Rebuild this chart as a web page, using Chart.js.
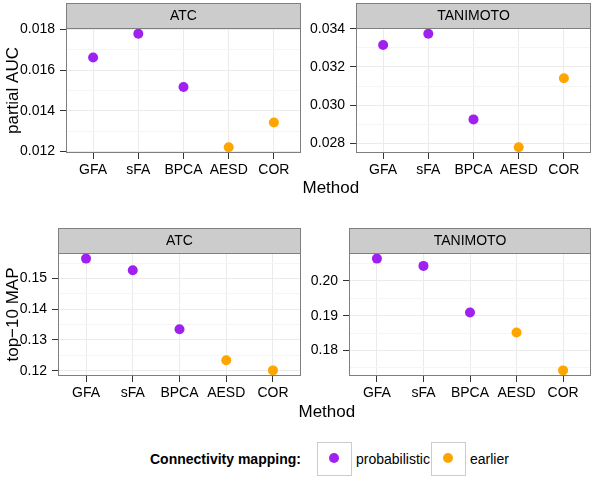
<!DOCTYPE html>
<html><head><meta charset="utf-8">
<script src="https://cdn.jsdelivr.net/npm/chart.js@4/dist/chart.umd.min.js"></script>
<style>
html,body{margin:0;padding:0;background:#fff;}
#root{position:relative;width:600px;height:478px;overflow:hidden;font-family:"Liberation Sans",Arial,Helvetica,sans-serif;}
canvas{position:absolute;}
.lbl{position:absolute;white-space:nowrap;color:#000;line-height:1;}
.key{position:absolute;width:33px;height:32px;border:1px solid #CCCCCC;background:#fff;box-sizing:content-box;}
.dot{position:absolute;width:10px;height:10px;border-radius:50%;}
</style></head><body><div id="root"></div>
<script>
// ---- data ----
const methods = ['GFA', 'sFA', 'BPCA', 'AESD', 'COR'];
const methodGroup = ['probabilistic', 'probabilistic', 'probabilistic', 'earlier', 'earlier'];
const groupNames = ['probabilistic', 'earlier'];
const facetNames = ['ATC', 'TANIMOTO'];
const aucATC = [0.01662, 0.01779, 0.01517, 0.01221, 0.01343];
const aucTANIMOTO = [0.03315, 0.03374, 0.02926, 0.02780, 0.03141];
const mapATC = [0.1565, 0.1527, 0.1335, 0.1234, 0.1201];
const mapTANIMOTO = [0.2064, 0.2043, 0.1909, 0.1852, 0.1743];
const aucATCTicks = [0.012, 0.014, 0.016, 0.018];
const aucTANIMOTOTicks = [0.028, 0.030, 0.032, 0.034];
const mapATCTicks = [0.12, 0.13, 0.14, 0.15];
const mapTANIMOTOTicks = [0.18, 0.19, 0.20];
const yTitles = ['partial AUC', 'top\u221210 MAP'];
const xTitle = 'Method';
const legendTitle = 'Connectivity mapping:';

// ---- styles ----
const FONT = '"Liberation Sans", Arial, Helvetica, sans-serif';
const groupColors = {probabilistic: '#A020F0', earlier: '#FFA500'};
const root = document.getElementById('root');

const panels = [
  {values: aucATC, ticks: aucATCTicks, digits: 3, strip: facetNames[0], ytitle: yTitles[0], area: {left: 66, top: 28, right: 306, bottom: 153}, colLeft: 0},
  {values: aucTANIMOTO, ticks: aucTANIMOTOTicks, digits: 3, strip: facetNames[1], ytitle: '', area: {left: 356, top: 28, right: 596, bottom: 153}, colLeft: 306},
  {values: mapATC, ticks: mapATCTicks, digits: 2, strip: facetNames[0], ytitle: yTitles[1], area: {left: 58, top: 253, right: 306, bottom: 376}, colLeft: 0},
  {values: mapTANIMOTO, ticks: mapTANIMOTOTicks, digits: 2, strip: facetNames[1], ytitle: '', area: {left: 349, top: 253, right: 596, bottom: 376}, colLeft: 306}
];

const facetFrame = {
  id: 'facetFrame',
  afterDraw(chart, args, opts) {
    const ctx = chart.ctx, a = chart.chartArea, sh = 25;
    ctx.save();
    ctx.fillStyle = '#CCCCCC';
    ctx.fillRect(a.left, a.top - sh, a.right - a.left, sh);
    ctx.strokeStyle = '#7F7F7F';
    ctx.lineWidth = 1;
    ctx.strokeRect(a.left + 0.5, a.top - sh + 0.5, a.right - a.left - 1, sh);
    ctx.strokeRect(a.left + 0.5, a.top + 0.5, a.right - a.left - 1, a.bottom - a.top - 1);
    ctx.fillStyle = '#000';
    ctx.font = '14px ' + FONT;
    ctx.textAlign = 'center';
    ctx.textBaseline = 'middle';
    ctx.fillText(opts.label, (a.left + a.right) / 2, a.top - sh / 2 + 1);
    ctx.restore();
  }
};

const TOPPAD = 28, XH = 45;
panels.forEach(p => {
  const a = p.area;
  const cTop = a.top - TOPPAD;
  const cLeft = p.colLeft;
  const cW = a.right - cLeft;
  const cH = a.bottom - cTop + XH;
  const cv = document.createElement('canvas');
  cv.width = cW; cv.height = cH;
  cv.style.left = cLeft + 'px'; cv.style.top = cTop + 'px';
  cv.style.width = cW + 'px'; cv.style.height = cH + 'px';
  root.appendChild(cv);

  const dmin = Math.min(...p.values), dmax = Math.max(...p.values);
  const ex = (dmax - dmin) * 0.05;
  const ymin = dmin - ex, ymax = dmax + ex;
  const step = p.ticks[1] - p.ticks[0];
  const yTicks = [];
  for (let k = -1; k < p.ticks.length; k++) {
    if (k >= 0) yTicks.push({value: p.ticks[k], minor: false});
    const base = k >= 0 ? p.ticks[k] : p.ticks[0] - step;
    const m = base + step / 2;
    if (m > ymin && m < ymax) yTicks.push({value: m, minor: true});
  }
  yTicks.sort((u, v) => u.value - v.value);

  const datasets = groupNames.map(g => ({
    label: g,
    data: p.values.map((v, i) => methodGroup[i] === g ? {x: i + 1, y: v} : null).filter(d => d),
    pointRadius: 5,
    pointBorderWidth: 0,
    pointBackgroundColor: groupColors[g],
    pointBorderColor: groupColors[g],
    showLine: false
  }));

  new Chart(cv, {
    type: 'scatter',
    data: {datasets},
    plugins: [facetFrame],
    options: {
      responsive: false,
      animation: false,
      events: [],
      devicePixelRatio: 1,
      layout: {padding: {top: TOPPAD, left: 0, right: 0, bottom: 0}},
      plugins: {legend: {display: false}, tooltip: {enabled: false}, facetFrame: {label: p.strip}},
      scales: {
        x: {
          type: 'linear', min: 0.4, max: 5.6,
          afterBuildTicks: s => { s.ticks = methods.map((m, i) => ({value: i + 1})); },
          afterFit: s => { s.height = XH; },
          border: {display: false},
          grid: {color: '#EBEBEB', lineWidth: 1, tickColor: '#333333', tickLength: 6, drawTicks: true},
          ticks: {callback: v => methods[Math.round(v) - 1], color: '#000', font: {size: 14, family: FONT}, padding: 3, maxRotation: 0, autoSkip: false}
        },
        y: {
          type: 'linear', min: ymin, max: ymax,
          afterBuildTicks: s => { s.ticks = yTicks.map(t => ({value: t.value, minor: t.minor})); },
          afterFit: s => { s.width = a.left - cLeft; },
          border: {display: false},
          grid: {
            color: c => (c.tick && c.tick.minor) ? '#F5F5F5' : '#EBEBEB',
            tickColor: c => (c.tick && c.tick.minor) ? 'rgba(0,0,0,0)' : '#333333',
            tickLength: 6, lineWidth: 1
          },
          ticks: {
            callback: function (v, i, ts) { return (ts[i] && ts[i].minor) ? '' : v.toFixed(p.digits); },
            color: '#000', font: {size: 14, family: FONT}, padding: 5, autoSkip: false
          },
          title: {display: !!p.ytitle, text: p.ytitle, color: '#000', font: {size: 17, family: FONT}, padding: {top: 3, bottom: 0}}
        }
      }
    }
  });
});

// x-axis titles (one per row, centred over the row's panels)
function addLabel(text, cx, cy, size, bold) {
  const d = document.createElement('div');
  d.className = 'lbl';
  d.textContent = text;
  d.style.fontSize = size + 'px';
  if (bold) d.style.fontWeight = 'bold';
  root.appendChild(d);
  const w = d.offsetWidth, h = d.offsetHeight;
  d.style.left = (cx - w / 2) + 'px';
  d.style.top = (cy - h / 2) + 'px';
  return d;
}
addLabel(xTitle, (panels[0].area.left + panels[1].area.right) / 2, 187, 17);
addLabel(xTitle, (panels[2].area.left + panels[3].area.right) / 2, 411, 17);

// legend
const lt = document.createElement('div');
lt.className = 'lbl'; lt.textContent = legendTitle;
lt.style.fontSize = '14px'; lt.style.fontWeight = 'bold';
root.appendChild(lt);
lt.style.left = '150px'; lt.style.top = (459 - lt.offsetHeight / 2) + 'px';
const keyX = [317, 431];
groupNames.forEach((g, i) => {
  const k = document.createElement('div');
  k.className = 'key';
  k.style.left = keyX[i] + 'px'; k.style.top = '442px';
  root.appendChild(k);
  const dt = document.createElement('div');
  dt.className = 'dot';
  dt.style.background = groupColors[g];
  dt.style.left = (keyX[i] + 12) + 'px'; dt.style.top = '453px';
  root.appendChild(dt);
  const t = document.createElement('div');
  t.className = 'lbl'; t.textContent = g; t.style.fontSize = '14px';
  root.appendChild(t);
  t.style.left = (keyX[i] + 39) + 'px'; t.style.top = (459 - t.offsetHeight / 2) + 'px';
});
</script></body></html>
